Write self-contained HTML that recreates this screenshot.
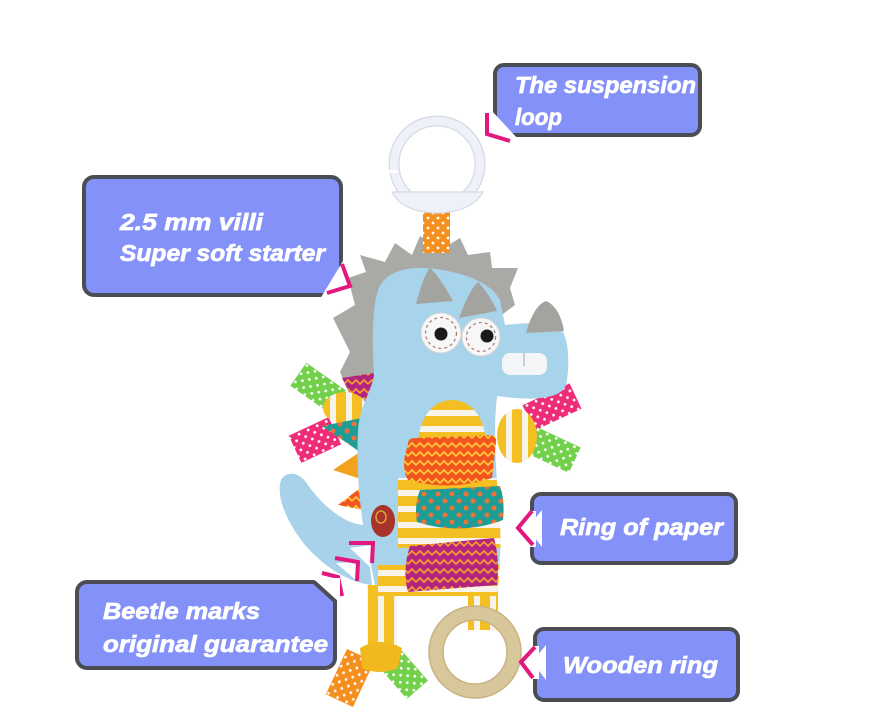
<!DOCTYPE html>
<html>
<head>
<meta charset="utf-8">
<style>
html,body{margin:0;padding:0;background:#fff;}
svg{display:block;}
.t{font-family:"Liberation Sans",sans-serif;font-weight:bold;font-style:italic;font-size:23px;fill:#fff;stroke:#fff;stroke-width:0.7px;}
</style>
</head>
<body>
<svg width="883" height="722" viewBox="0 0 883 722" xmlns="http://www.w3.org/2000/svg">
<defs>
  <pattern id="dG" width="10" height="10" patternUnits="userSpaceOnUse">
    <rect width="10" height="10" fill="#72d04a"/><circle cx="3" cy="3" r="1.4" fill="#fff"/><circle cx="8" cy="8" r="1.4" fill="#fff"/>
  </pattern>
  <pattern id="dP" width="10" height="10" patternUnits="userSpaceOnUse">
    <rect width="10" height="10" fill="#ee2c78"/><circle cx="3" cy="3" r="1.4" fill="#fff"/><circle cx="8" cy="8" r="1.4" fill="#fff"/>
  </pattern>
  <pattern id="dO" width="10" height="10" patternUnits="userSpaceOnUse">
    <rect width="10" height="10" fill="#f5901f"/><circle cx="3" cy="3" r="1.4" fill="#fff"/><circle cx="8" cy="8" r="1.4" fill="#fff"/>
  </pattern>
  <pattern id="dT" width="14" height="14" patternUnits="userSpaceOnUse">
    <rect width="14" height="14" fill="#1c9d95"/><circle cx="4" cy="4" r="2.5" fill="#f0713a"/><circle cx="11" cy="11" r="2.5" fill="#f0713a"/>
  </pattern>
  <pattern id="zO" width="16" height="9" patternUnits="userSpaceOnUse">
    <rect width="16" height="9" fill="#f2561f"/><polyline points="0,6 4,2 8,6 12,2 16,6" fill="none" stroke="#ffc53a" stroke-width="1.8"/>
  </pattern>
  <pattern id="zM" width="16" height="9" patternUnits="userSpaceOnUse">
    <rect width="16" height="9" fill="#b2247f"/><polyline points="0,6 4,2 8,6 12,2 16,6" fill="none" stroke="#f39a31" stroke-width="1.8"/>
  </pattern>
  <pattern id="sY" width="14" height="16" patternUnits="userSpaceOnUse">
    <rect width="14" height="16" fill="#f4bf22"/><rect y="10" width="14" height="6" fill="#f8f4ea"/>
  </pattern>
  <pattern id="sV" width="16" height="14" patternUnits="userSpaceOnUse">
    <rect width="16" height="14" fill="#f4bf22"/><rect x="10" width="6" height="14" fill="#f8f4ea"/>
  </pattern>
  <clipPath id="bodyClip">
    <path d="M370,560 C360,520 356,470 358,430 C360,405 372,390 374,375 C372,340 372,310 378,290 C385,272 405,267 425,268 C455,270 490,280 500,300 L505,325 C530,322 555,322 563,332 C570,345 569,372 566,385 C562,397 540,400 515,398 L497,396 C493,430 496,470 499,510 C502,545 500,570 497,596 L375,596 Z"/>
  </clipPath>
</defs>

<!-- ===== TOY ===== -->
<polygon fill="#a9aaa6" points="352,400 340,372 350,352 333,318 355,305 348,278 366,272 360,255 385,262 395,243 412,255 420,236 440,250 460,238 468,255 490,252 492,268 518,268 510,288 515,305 495,320 420,330 385,395"/>

<!-- left tags & patches -->
<rect x="-24" y="-14" width="48" height="28" fill="url(#dG)" transform="translate(318,388) rotate(35)"/>
<rect x="-22" y="-15" width="44" height="30" fill="url(#dP)" transform="translate(315,440) rotate(-25)"/>
<polygon points="342,378 380,372 378,402 356,406" fill="url(#zM)"/>
<ellipse cx="345" cy="408" rx="22" ry="16" fill="url(#sV)"/>
<polygon points="322,426 362,418 360,452" fill="url(#dT)"/>
<polygon points="333,470 360,452 364,480" fill="#f3a21f"/>
<polygon points="338,505 368,482 374,512" fill="url(#zO)"/>

<!-- right tags & arm -->
<rect x="-26" y="-14" width="52" height="28" fill="url(#dP)" transform="translate(552,407) rotate(-25)"/>
<rect x="-24" y="-14" width="48" height="28" fill="url(#dG)" transform="translate(553,450) rotate(25)"/>
<ellipse cx="517" cy="436" rx="20" ry="27" fill="url(#sV)"/>

<!-- legs & bottom tags (behind body) -->
<rect x="-25" y="-15" width="50" height="30" fill="url(#dO)" transform="translate(350,678) rotate(115)"/>
<rect x="-25" y="-14" width="50" height="28" fill="url(#dG)" transform="translate(401,671) rotate(49)"/>
<rect x="367" y="585" width="30" height="62" fill="url(#sV)"/>
<path fill="#f2b91e" d="M360,648 Q380,636 402,648 L398,668 Q380,676 362,668 Z"/>
<rect x="468" y="584" width="30" height="46" fill="url(#sV)"/>

<!-- tail -->
<path fill="#a7d2ea" d="M365,525 C345,525 322,505 308,485 C300,472 287,470 281,480 C276,495 285,520 305,545 C325,568 350,583 372,585 Z"/>

<!-- body + head -->
<path fill="#a7d3eb" d="M370,560 C360,520 356,470 358,430 C360,405 372,390 374,375 C372,340 372,310 378,290 C385,272 405,267 425,268 C455,270 490,280 500,300 L505,325 C530,322 555,322 563,332 C570,345 569,372 566,385 C562,397 540,400 515,398 L497,396 C493,430 496,470 499,510 C502,545 500,570 495,585 L375,585 Z"/>

<!-- horns -->
<path fill="#a3a4a0" d="M416,304 C420,290 424,275 430,268 C438,275 447,290 453,301 Z"/>
<path fill="#a3a4a0" d="M459,318 C465,302 470,290 478,282 C486,290 492,300 497,311 Z"/>
<path fill="#a3a4a0" d="M526,333 C530,318 537,304 546,301 C556,305 562,318 564,331 Z"/>

<!-- eyes -->
<circle cx="441" cy="333" r="20" fill="#f7f7f7" stroke="#d9d6d2" stroke-width="1"/>
<circle cx="441" cy="333" r="15.5" fill="none" stroke="#a98479" stroke-width="1.3" stroke-dasharray="3 3"/>
<circle cx="441" cy="334" r="6.5" fill="#1a1a1a"/>
<circle cx="481" cy="337" r="19" fill="#f7f7f7" stroke="#d9d6d2" stroke-width="1"/>
<circle cx="481" cy="337" r="14.5" fill="none" stroke="#a98479" stroke-width="1.3" stroke-dasharray="3 3"/>
<circle cx="487" cy="336" r="6.5" fill="#1a1a1a"/>

<!-- teeth -->
<rect x="502" y="353" width="45" height="22" rx="8" fill="#f3f5f7"/>
<line x1="524" y1="353" x2="524" y2="366" stroke="#9fb8c8" stroke-width="1.2"/>

<!-- belly patches -->
<g clip-path="url(#bodyClip)">
  <rect x="398" y="478" width="106" height="70" fill="url(#sY)"/>
  <rect x="378" y="565" width="125" height="32" fill="url(#sY)"/>
</g>
<path fill="url(#sY)" d="M418,447 C418,416 434,400 452,400 C470,400 486,416 486,447 Z"/>
<path fill="url(#zO)" d="M408,444 Q408,438 415,438 L490,435 Q497,435 496,442 L492,478 Q450,492 408,480 Q402,470 405,455 Z"/>
<path fill="url(#dT)" d="M420,490 L500,486 Q505,500 503,520 Q460,536 417,522 Q414,505 420,490 Z"/>
<path fill="url(#zM)" d="M410,546 L494,538 Q500,560 497,585 L408,592 Q402,570 410,546 Z"/>

<!-- button -->
<ellipse cx="383" cy="521" rx="12" ry="16" fill="#a8332b"/>
<ellipse cx="381" cy="517" rx="5" ry="6" fill="none" stroke="#e0a030" stroke-width="1.5"/>

<!-- wooden ring -->
<circle cx="475" cy="652" r="39" fill="none" stroke="#d9c79c" stroke-width="14"/>
<circle cx="475" cy="652" r="46" fill="none" stroke="#c8b382" stroke-width="1.5"/>
<circle cx="475" cy="652" r="32" fill="none" stroke="#c8b382" stroke-width="1.5"/>

<!-- beetle mark chevrons -->
<polygon points="350,548 372,545 370,567" fill="#fff"/>
<polyline points="349,543 373,543 372,563" fill="none" stroke="#e4177e" stroke-width="4"/>
<polygon points="336,563 358,562 356,580" fill="#fff"/>
<polyline points="335,558 358,562 357,581" fill="none" stroke="#e4177e" stroke-width="4"/>
<polyline points="322,573 338,577 342,596" fill="none" stroke="#e4177e" stroke-width="4"/>

<!-- top tab and suspension ring -->
<rect x="423" y="206" width="27" height="47" fill="url(#dO)"/>
<circle cx="437" cy="164" r="43" fill="none" stroke="#d4d9e2" stroke-width="11"/>
<circle cx="437" cy="164" r="43" fill="none" stroke="#eef1f7" stroke-width="8.5"/>
<rect x="386" y="170" width="12" height="3" fill="#fff"/>
<path d="M392,192 L483,192 Q472,212 437,213 Q402,212 392,192 Z" fill="#eef1f7" stroke="#d4d9e2" stroke-width="1.2"/>

<!-- ===== CALLOUT BOXES ===== -->
<rect x="495" y="65" width="205" height="70" rx="9" fill="#8391f8" stroke="#4b4d55" stroke-width="4"/>
<polygon points="491,110 491,140 519,140" fill="#fff"/>
<polyline points="487,113 487,134 510,141" fill="none" stroke="#e4177e" stroke-width="4"/>
<text class="t" font-weight="bold" x="515" y="93" textLength="181" lengthAdjust="spacingAndGlyphs">The suspension</text>
<text class="t" font-weight="bold" x="515" y="125" textLength="47" lengthAdjust="spacingAndGlyphs">loop</text>

<rect x="84" y="177" width="257" height="118" rx="10" fill="#8391f8" stroke="#4b4d55" stroke-width="4"/>
<polygon points="343,261 346,299 320,299" fill="#fff"/>
<polyline points="342,264 350,286 327,293" fill="none" stroke="#e4177e" stroke-width="4"/>
<text class="t" font-weight="bold" x="120" y="230" textLength="143" lengthAdjust="spacingAndGlyphs">2.5 mm villi</text>
<text class="t" font-weight="bold" x="120" y="261" textLength="205" lengthAdjust="spacingAndGlyphs">Super soft starter</text>

<rect x="532" y="494" width="204" height="69" rx="9" fill="#8391f8" stroke="#4b4d55" stroke-width="4"/>
<rect x="528" y="511" width="8" height="36" fill="#fff"/>
<polygon points="542,510 542,547 527,528" fill="#fff"/>
<polyline points="532,511 518,528 533,545" fill="none" stroke="#e4177e" stroke-width="4"/>
<text class="t" font-weight="bold" x="560" y="535" textLength="163" lengthAdjust="spacingAndGlyphs">Ring of paper</text>

<rect x="535" y="629" width="203" height="71" rx="9" fill="#8391f8" stroke="#4b4d55" stroke-width="4"/>
<rect x="531" y="646" width="8" height="33" fill="#fff"/>
<polygon points="546,645 546,680 532,662" fill="#fff"/>
<polyline points="535,647 521,662 533,678" fill="none" stroke="#e4177e" stroke-width="4"/>
<text class="t" font-weight="bold" x="563" y="673" textLength="155" lengthAdjust="spacingAndGlyphs">Wooden ring</text>

<rect x="77" y="582" width="258" height="86" rx="10" fill="#8391f8" stroke="#4b4d55" stroke-width="4"/>
<polygon points="312,578 340,578 340,604" fill="#fff"/>
<line x1="314" y1="582" x2="336" y2="602" stroke="#4b4d55" stroke-width="4"/>
<text class="t" font-weight="bold" x="103" y="619" textLength="157" lengthAdjust="spacingAndGlyphs">Beetle marks</text>
<text class="t" font-weight="bold" x="103" y="652" textLength="225" lengthAdjust="spacingAndGlyphs">original guarantee</text>
</svg>
</body>
</html>
